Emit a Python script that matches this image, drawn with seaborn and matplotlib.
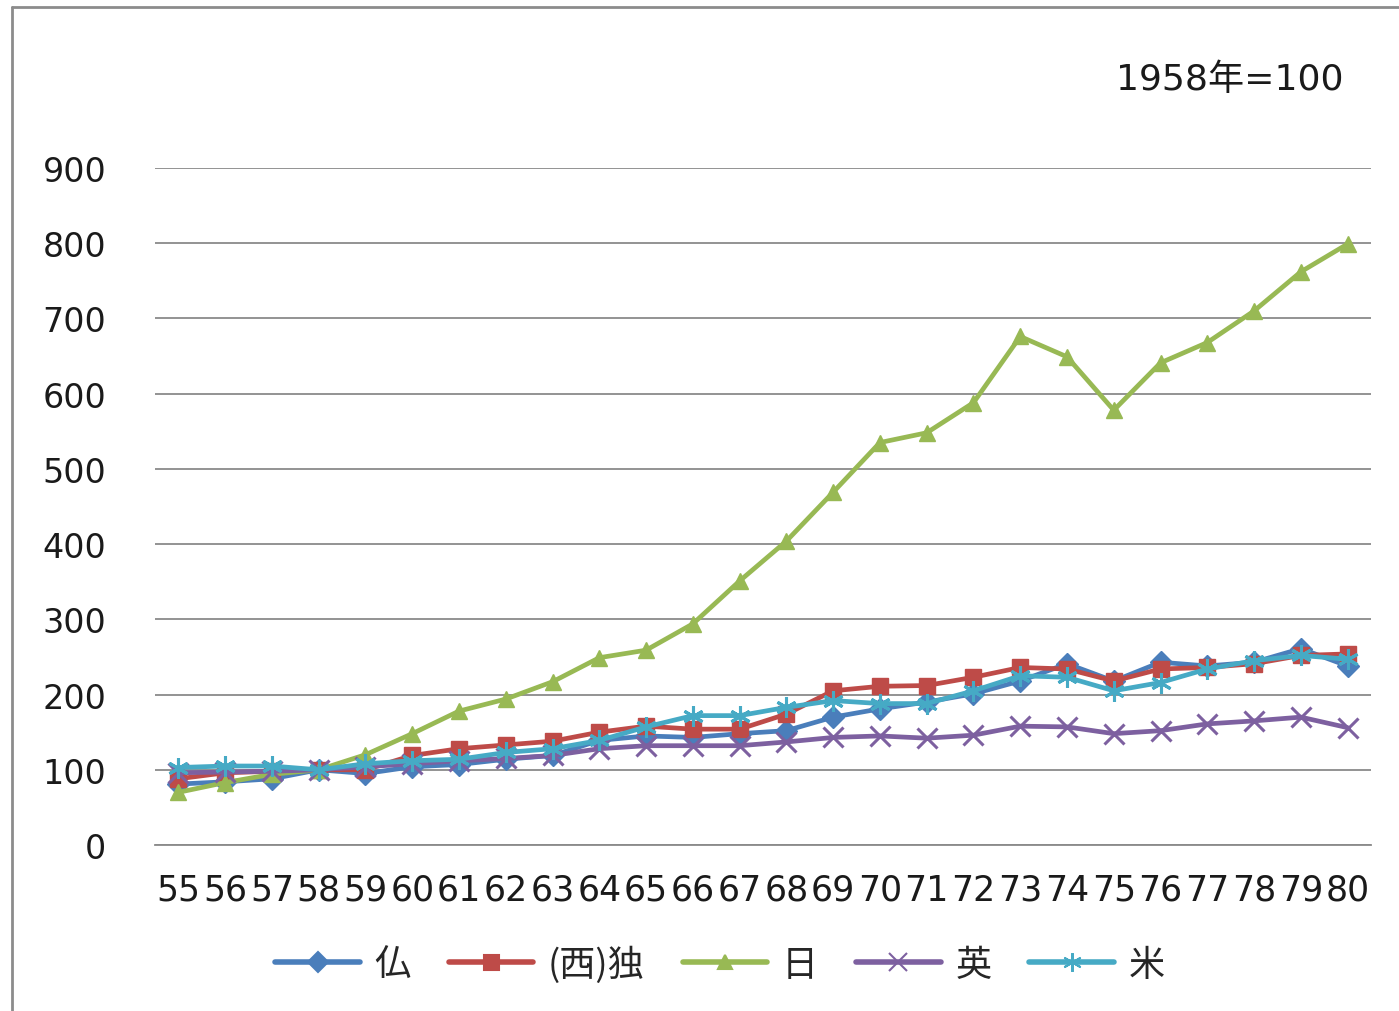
import matplotlib
matplotlib.use("Agg")
import matplotlib.pyplot as plt
from matplotlib.lines import Line2D
import seaborn as sns
import pandas as pd

# Industrial production index, 1958 = 100
years = list(range(55, 81))
year_labels = [str(y) for y in years]

france = [81, 84, 88, 100, 95, 104, 107, 114, 119, 139, 145, 143, 148, 152, 170,
          181, 190, 201, 218, 241, 218, 243, 238, 243, 261, 238]
w_germany = [88, 96, 98, 100, 100, 119, 128, 133, 138, 150, 158, 154, 154, 174, 205,
             211, 212, 223, 236, 234, 218, 234, 236, 241, 252, 254]
japan = [70, 83, 94, 100, 120, 148, 178, 194, 217, 249, 259, 294, 351, 404, 469,
         535, 548, 588, 676, 649, 578, 641, 668, 710, 762, 799]
uk = [96, 97, 98, 100, 104, 108, 112, 115, 119, 128, 132, 132, 132, 137, 143,
      145, 142, 146, 158, 157, 148, 152, 161, 165, 170, 156]
usa = [103, 105, 105, 100, 108, 112, 114, 123, 128, 139, 157, 172, 172, 183, 192,
       188, 188, 205, 225, 223, 205, 216, 234, 245, 252, 247]

series_names = ["仏", "(西)独", "日", "英", "米"]
series_values = [france, w_germany, japan, uk, usa]
colors = ["#4A7EBB", "#BE4B48", "#98B954", "#7D60A0", "#46AAC5"]
markers = ["D", "s", "^", "x", (6, 2, 0)]
marker_sizes = [11, 12, 11, 14, 15]

df = pd.DataFrame({"year": years})
for name, vals in zip(series_names, series_values):
    df[name] = vals

sns.set_theme(style="white")
plt.rcParams["font.family"] = ["DejaVu Sans", "Noto Sans CJK JP"]

fig = plt.figure(figsize=(13.99, 10.12), dpi=100)
ax = fig.add_axes([155 / 1399, 1 - 846 / 1012, (1371 - 155) / 1399, (846 - 169) / 1012])

for name, col, mk, ms in zip(series_names, colors, markers, marker_sizes):
    thin = mk == "x" or isinstance(mk, tuple)
    sns.lineplot(data=df, x="year", y=name, ax=ax, color=col, linewidth=3.4,
                 marker=mk, markersize=ms, markeredgecolor=col,
                 markeredgewidth=2.2 if thin else 1,
                 label=name, legend=False)

ax.set_xlim(54.5, 80.5)
ax.set_ylim(0, 900)
ax.set_yticks(range(0, 901, 100))
ax.set_xticks(years)
ax.set_xticklabels(year_labels, fontsize=25)
ax.tick_params(axis="y", labelsize=24, pad=35, length=0, colors="#1A1A1A")
ax.tick_params(axis="x", pad=20, length=0, colors="#1A1A1A")
ax.set_xlabel("")
ax.set_ylabel("")
ax.grid(axis="y", color="#8A8A8A", linewidth=1.3)
ax.grid(axis="x", visible=False)
for side in ["top", "right", "left"]:
    ax.spines[side].set_visible(False)
ax.spines["bottom"].set_color("#8A8A8A")
ax.spines["bottom"].set_linewidth(1.3)
ax.set_axisbelow(True)

handles = [Line2D([0], [0], color=c, lw=4, marker=m, markersize=ms * 0.9,
                  markeredgecolor=c, markeredgewidth=1.5)
           for c, m, ms in zip(colors, markers, marker_sizes)]
fig.legend(handles, series_names, loc="center", bbox_to_anchor=(720 / 1399, 1 - 965 / 1012),
           ncol=5, frameon=False, handlelength=2.35, handletextpad=0.4, columnspacing=1.05,
           prop={"family": ["Noto Sans CJK JP"], "size": 26})

fig.text(1343 / 1399, 1 - 80 / 1012, "1958年=100", ha="right", va="center",
         fontsize=26, color="#1A1A1A", family=["DejaVu Sans", "Noto Sans CJK JP"])

# outer chart frame
fig.add_artist(Line2D([12 / 1399, 1.0], [1 - 8 / 1012, 1 - 8 / 1012],
                      transform=fig.transFigure, color="#8C8C8C", lw=2))
fig.add_artist(Line2D([12 / 1399, 12 / 1399], [0.0, 1 - 8 / 1012],
                      transform=fig.transFigure, color="#8C8C8C", lw=2))

fig.savefig("out.png", dpi=100, facecolor="white")
